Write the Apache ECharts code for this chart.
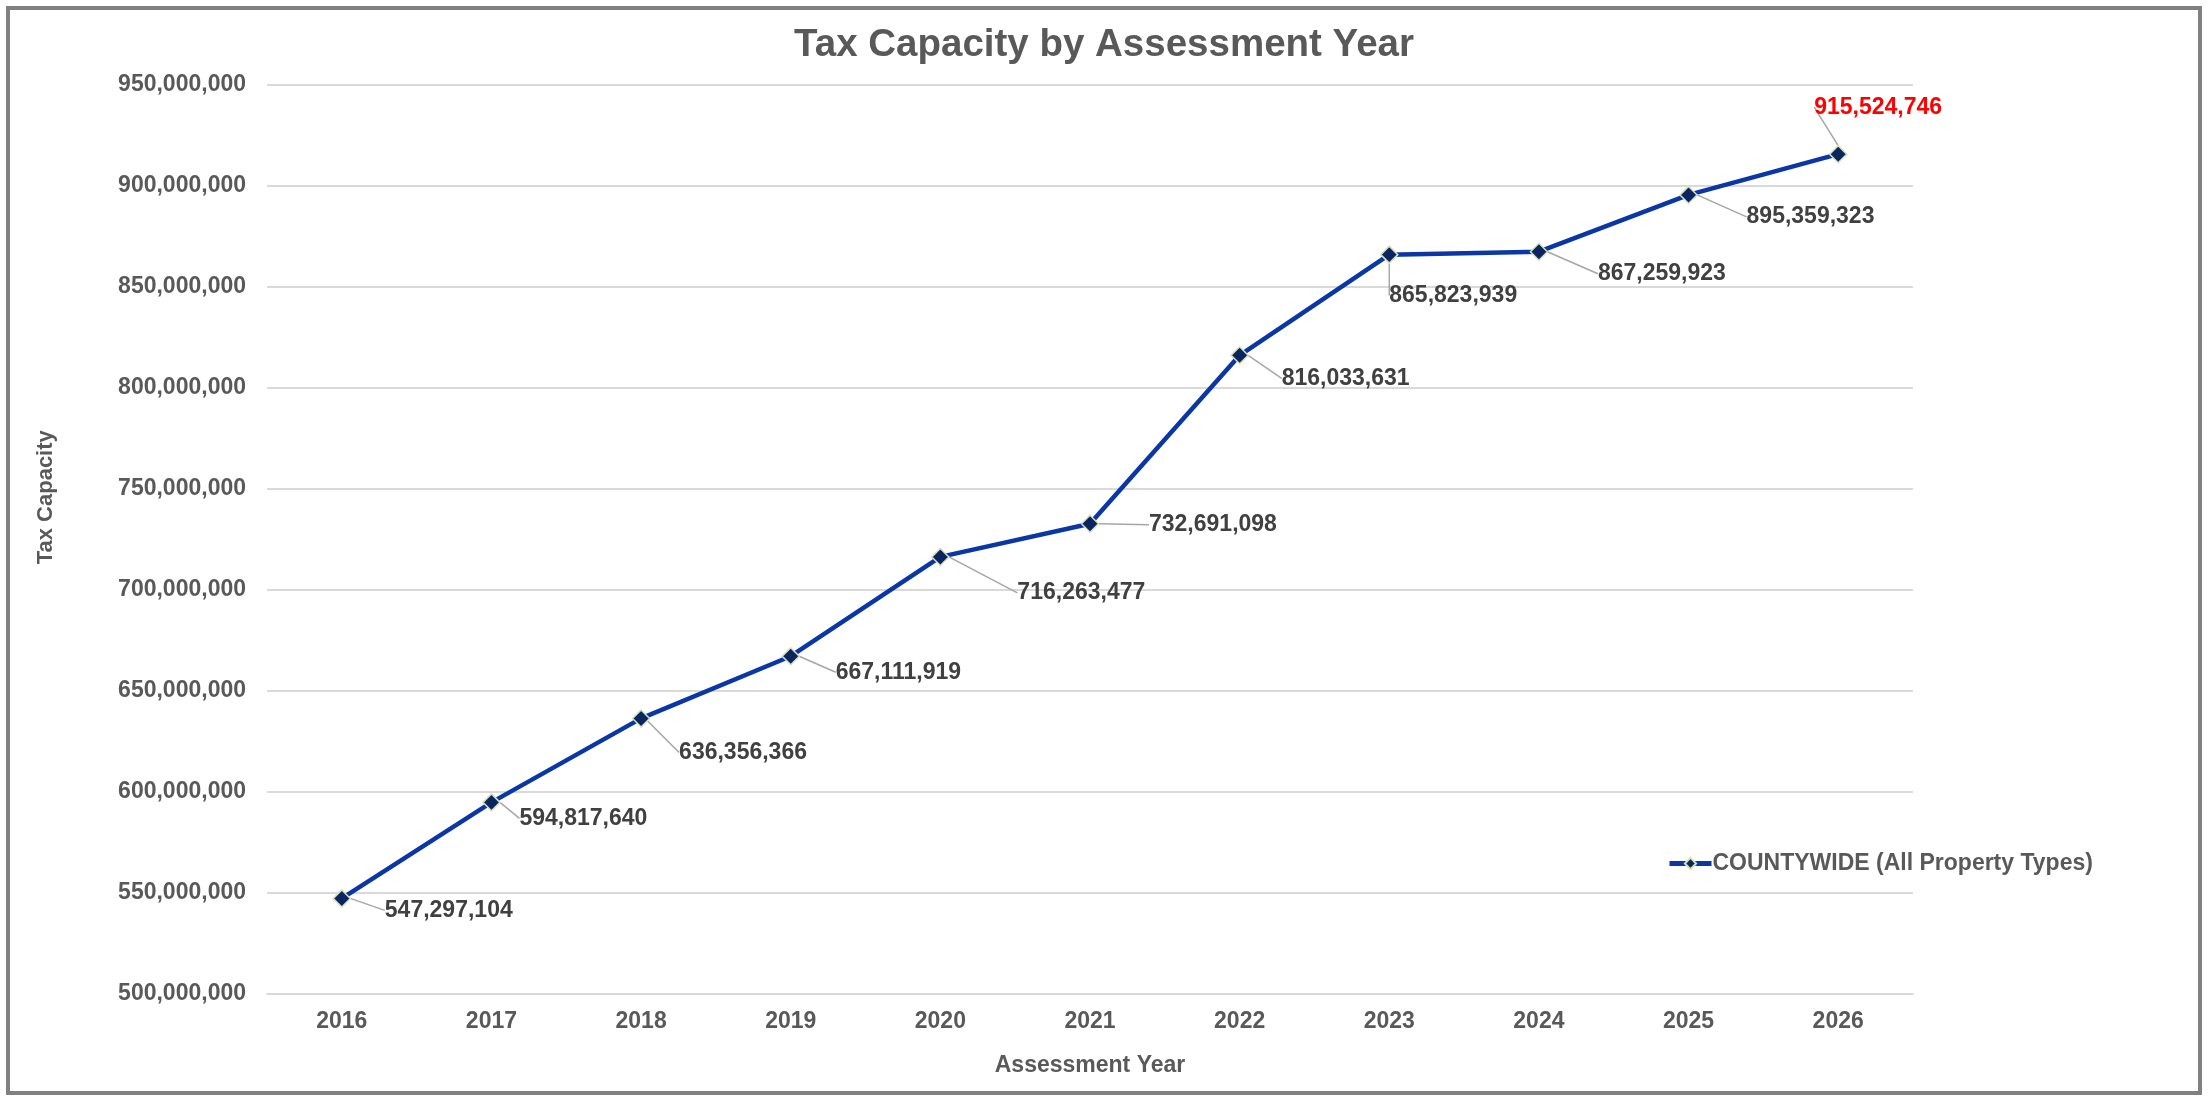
<!DOCTYPE html>
<html>
<head>
<meta charset="utf-8">
<script src="https://cdn.jsdelivr.net/npm/echarts@6/dist/echarts.min.js"></script>
<style>
html,body{margin:0;padding:0;background:#fff;}
#chart{width:2208px;height:1098px;}
</style>
</head>
<body>
<div id="chart"></div>
<script>
// ---- data ----
const categories = ['2016','2017','2018','2019','2020','2021','2022','2023','2024','2025','2026'];
const taxCapacity = [547297104, 594817640, 636356366, 667111919, 716263477, 732691098, 816033631, 865823939, 867259923, 895359323, 915524746];
const seriesName = 'COUNTYWIDE (All Property Types)';
const yTicks = {min: 500000000, max: 950000000, interval: 50000000};

// ---- label layout offsets (px, relative to point) ----
const labelDx = [43, 28, 38, 45, 77, 59, 42, 0, 59, 58, -24];
const labelDy = [12, 16, 34, 16, 36, 1, 23, 41, 22, 22, -47];
const highlightIndex = categories.length - 1;

const fmt = v => Number(v).toLocaleString('en-US');
const FONT = '"Liberation Sans", Arial, sans-serif';

const chart = echarts.init(document.getElementById('chart'));
chart.setOption({
  backgroundColor: '#ffffff',
  animation: false,
  textStyle: {fontFamily: FONT},
  graphic: [{
    type: 'rect', silent: true, z: -1,
    shape: {x: 8, y: 8, width: 2192, height: 1085},
    style: {fill: 'none', stroke: '#808080', lineWidth: 4}
  }],
  title: {
    text: 'Tax Capacity by Assessment Year',
    left: 'center', top: 21,
    textStyle: {fontFamily: FONT, fontSize: 38.5, fontWeight: 'bold', color: '#595959'}
  },
  legend: {
    left: 1662, top: 847,
    itemWidth: 42, itemHeight: 14, itemGap: 10,
    lineStyle: {width: 5, color: '#0A36A6'},
    textStyle: {fontFamily: FONT, fontSize: 23, fontWeight: 'bold', color: '#595959', padding: [0,0,0,-4]},
    data: [seriesName]
  },
  grid: {left: 267, right: 295, top: 84.5, bottom: 104, containLabel: false},
  xAxis: {
    type: 'category',
    data: categories,
    boundaryGap: true,
    name: 'Assessment Year',
    nameLocation: 'middle',
    nameGap: 60,
    nameTextStyle: {fontFamily: FONT, fontSize: 23, fontWeight: 'bold', color: '#595959'},
    axisLine: {show: true, lineStyle: {color: '#D9D9D9', width: 2}},
    axisTick: {show: false},
    axisLabel: {margin: 16, fontFamily: FONT, fontSize: 23, fontWeight: 'bold', color: '#595959'}
  },
  yAxis: {
    type: 'value',
    min: yTicks.min, max: yTicks.max, interval: yTicks.interval,
    name: 'Tax Capacity',
    nameLocation: 'middle',
    nameGap: 210,
    nameRotate: 90,
    nameTextStyle: {fontFamily: FONT, fontSize: 22, fontWeight: 'bold', color: '#595959', padding: [0, 0, 0, 84]},
    axisLine: {show: false},
    axisTick: {show: false},
    splitLine: {show: true, lineStyle: {color: '#D9D9D9', width: 2}},
    axisLabel: {margin: 21, fontFamily: FONT, fontSize: 23, fontWeight: 'bold', color: '#595959', formatter: v => fmt(v)}
  },
  series: [{
    name: seriesName,
    type: 'line',
    data: taxCapacity.map((v, i) => i === highlightIndex
      ? {value: v, label: {color: '#FF0000'}}
      : v),
    symbol: 'diamond',
    symbolSize: 17,
    lineStyle: {color: '#0A36A6', width: 4.5},
    itemStyle: {color: '#0B2560', borderColor: '#D6E0B8', borderWidth: 1.5},
    label: {
      show: true,
      position: 'inside',
      align: 'left',
      verticalAlign: 'middle',
      fontFamily: FONT,
      fontSize: 23,
      fontWeight: 'bold',
      color: '#404040',
      formatter: p => fmt(p.value)
    },
    labelLine: {show: true, lineStyle: {color: '#A6A6A6', width: 1.5}},
    labelLayout: p => ({dx: labelDx[p.dataIndex], dy: labelDy[p.dataIndex]})
  }]
});
</script>
</body>
</html>
